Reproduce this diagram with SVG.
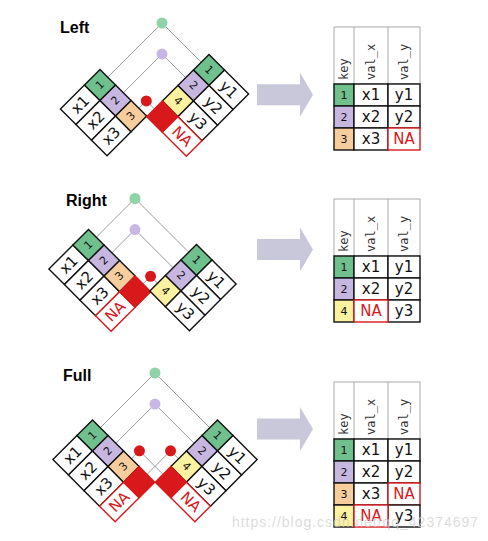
<svg xmlns="http://www.w3.org/2000/svg" width="488" height="541" viewBox="0 0 488 541">
<style>
.ln{stroke:#9c9c9c;stroke-width:1;fill:none}
.c{stroke:#111;stroke-width:1.4}
.v{fill:#fff}
.g{fill:#6fc08d}.p{fill:#c7b6e0}.o{fill:#f7cd9d}.y{fill:#fdf29f}
.r{fill:#d8181b;stroke:#d8181b;stroke-width:1.4}
.na{fill:#fff;stroke:#d8181b;stroke-width:1.4}
.t{font-family:"DejaVu Sans",sans-serif;font-size:15px;text-anchor:middle;dominant-baseline:central;fill:#111}
.tk{font-size:11px}
.tr{fill:#d8181b}
.rv{font-size:15px}
.rk{font-size:11px}
.hd{fill:none;stroke:#aaa;stroke-width:1}
.ht{font-family:"DejaVu Sans Mono",monospace;font-size:12px;fill:#333}
.arrow{fill:#c9c8da}
.title{font-family:"Liberation Sans",Arial,sans-serif;font-weight:bold;font-size:16px;fill:#000}
.dg{fill:#8fd3a6}.dp{fill:#c8b7e4}.dr{fill:#d8181b}
</style>

<!-- titles -->
<text class="title" x="60" y="33">Left</text>
<text class="title" x="66" y="206">Right</text>
<text class="title" x="63" y="381">Full</text>

<!-- connectors -->
<g id="connectors">
  <path class="ln" d="M162,23L100,85M162,23L209,70M162,54.1L115.56,100.56M162,54.1L193.44,85.56M146.3,100.9L131.11,116.11M146.3,100.9L162.33,116.67"/>
  <path class="ln" d="M135,198.5L88.5,245M135,198.5L196.5,260M135,229.6L104.06,260.56M135,229.6L180.94,275.56M150.56,276.28L135.17,291.67M150.56,276.28L165.39,291.11"/>
  <path class="ln" d="M155,373L92.5,435.5M155,373L217.5,435.5M155,404.1L108.06,451.06M155,404.1L201.94,451.06M139.44,450.78L123.61,466.61M139.44,450.78L170.83,482.17M170.56,450.78L186.39,466.61M170.56,450.78L139.17,482.17"/>
</g>

<!-- LEFT panel -->
<g id="left-x" transform="translate(100,85) rotate(-45)">
  <rect class="v c" x="-45" y="-11" width="34" height="22"/><rect class="g c" x="-11" y="-11" width="22" height="22"/>
  <rect class="v c" x="-45" y="11" width="34" height="22"/><rect class="p c" x="-11" y="11" width="22" height="22"/>
  <rect class="v c" x="-45" y="33" width="34" height="22"/><rect class="o c" x="-11" y="33" width="22" height="22"/>
  <text class="t" x="-28" y="0">x1</text><text class="t tk" x="0" y="0">1</text>
  <text class="t" x="-28" y="22">x2</text><text class="t tk" x="0" y="22">2</text>
  <text class="t" x="-28" y="44">x3</text><text class="t tk" x="0" y="44">3</text>
</g>
<g id="left-y" transform="translate(209,70) rotate(45)">
  <rect class="g c" x="-11" y="-11" width="22" height="22"/><rect class="v c" x="11" y="-11" width="34" height="22"/>
  <rect class="p c" x="-11" y="11" width="22" height="22"/><rect class="v c" x="11" y="11" width="34" height="22"/>
  <rect class="y c" x="-11" y="33" width="22" height="22"/><rect class="v c" x="11" y="33" width="34" height="22"/>
  <rect class="r" x="-11" y="55" width="22" height="22"/><rect class="na" x="11" y="55" width="34" height="22"/>
  <text class="t tk" x="0" y="0">1</text><text class="t" x="28" y="0">y1</text>
  <text class="t tk" x="0" y="22">2</text><text class="t" x="28" y="22">y2</text>
  <text class="t tk" x="0" y="44">4</text><text class="t" x="28" y="44">y3</text>
  <text class="t tr" x="28" y="66">NA</text>
</g>
<g id="left-dots">
  <circle class="dg" cx="162" cy="23" r="5.5"/>
  <circle class="dp" cx="162" cy="54.1" r="5.5"/>
  <circle class="dr" cx="146.3" cy="100.9" r="5.5"/>
</g>
<g id="left-arrow"><polygon class="arrow" points="257,84.2 300,84.2 300,72.7 313,94.7 300,116.7 300,105.2 257,105.2"/></g>
<g id="left-result">
  <rect class="hd" x="334" y="27" width="86" height="57"/>
  <path class="hd" d="M354,27V84M388,27V84"/>
  <text class="ht" transform="translate(348,80) rotate(-90)">key</text>
  <text class="ht" transform="translate(375,80) rotate(-90)">val_x</text>
  <text class="ht" transform="translate(408,80) rotate(-90)">val_y</text>
  <rect class="g c" x="334" y="84" width="20" height="22"/><rect class="v c" x="354" y="84" width="34" height="22"/><rect class="v c" x="388" y="84" width="32" height="22"/>
  <rect class="p c" x="334" y="106" width="20" height="22"/><rect class="v c" x="354" y="106" width="34" height="22"/><rect class="v c" x="388" y="106" width="32" height="22"/>
  <rect class="o c" x="334" y="128" width="20" height="22"/><rect class="v c" x="354" y="128" width="34" height="22"/><rect class="na" x="388" y="128" width="32" height="22"/>
  <text class="t rk" x="344" y="95">1</text><text class="t rv" x="371" y="95">x1</text><text class="t rv" x="404" y="95">y1</text>
  <text class="t rk" x="344" y="117">2</text><text class="t rv" x="371" y="117">x2</text><text class="t rv" x="404" y="117">y2</text>
  <text class="t rk" x="344" y="139">3</text><text class="t rv" x="371" y="139">x3</text><text class="t rv tr" x="404" y="139">NA</text>
</g>

<!-- RIGHT panel -->
<g id="right-x" transform="translate(88.5,245) rotate(-45)">
  <rect class="v c" x="-45" y="-11" width="34" height="22"/><rect class="g c" x="-11" y="-11" width="22" height="22"/>
  <rect class="v c" x="-45" y="11" width="34" height="22"/><rect class="p c" x="-11" y="11" width="22" height="22"/>
  <rect class="v c" x="-45" y="33" width="34" height="22"/><rect class="o c" x="-11" y="33" width="22" height="22"/>
  <rect class="na" x="-45" y="55" width="34" height="22"/><rect class="r" x="-11" y="55" width="22" height="22"/>
  <text class="t" x="-28" y="0">x1</text><text class="t tk" x="0" y="0">1</text>
  <text class="t" x="-28" y="22">x2</text><text class="t tk" x="0" y="22">2</text>
  <text class="t" x="-28" y="44">x3</text><text class="t tk" x="0" y="44">3</text>
  <text class="t tr" x="-28" y="66">NA</text>
</g>
<g id="right-y" transform="translate(196.5,260) rotate(45)">
  <rect class="g c" x="-11" y="-11" width="22" height="22"/><rect class="v c" x="11" y="-11" width="34" height="22"/>
  <rect class="p c" x="-11" y="11" width="22" height="22"/><rect class="v c" x="11" y="11" width="34" height="22"/>
  <rect class="y c" x="-11" y="33" width="22" height="22"/><rect class="v c" x="11" y="33" width="34" height="22"/>
  <text class="t tk" x="0" y="0">1</text><text class="t" x="28" y="0">y1</text>
  <text class="t tk" x="0" y="22">2</text><text class="t" x="28" y="22">y2</text>
  <text class="t tk" x="0" y="44">4</text><text class="t" x="28" y="44">y3</text>
</g>
<g id="right-dots">
  <circle class="dg" cx="135" cy="198.5" r="5.5"/>
  <circle class="dp" cx="135" cy="229.6" r="5.5"/>
  <circle class="dr" cx="150.56" cy="276.28" r="5.5"/>
</g>
<g id="right-arrow"><polygon class="arrow" points="257,239 300,239 300,227.5 313,249.5 300,271.5 300,260 257,260"/></g>
<g id="right-result">
  <rect class="hd" x="334" y="199" width="86" height="57"/>
  <path class="hd" d="M354,199V256M388,199V256"/>
  <text class="ht" transform="translate(348,252) rotate(-90)">key</text>
  <text class="ht" transform="translate(375,252) rotate(-90)">val_x</text>
  <text class="ht" transform="translate(408,252) rotate(-90)">val_y</text>
  <rect class="g c" x="334" y="256" width="20" height="22"/><rect class="v c" x="354" y="256" width="34" height="22"/><rect class="v c" x="388" y="256" width="32" height="22"/>
  <rect class="p c" x="334" y="278" width="20" height="22"/><rect class="v c" x="354" y="278" width="34" height="22"/><rect class="v c" x="388" y="278" width="32" height="22"/>
  <rect class="y c" x="334" y="300" width="20" height="22"/><rect class="v c" x="388" y="300" width="32" height="22"/><rect class="na" x="354" y="300" width="34" height="22"/>
  <text class="t rk" x="344" y="267">1</text><text class="t rv" x="371" y="267">x1</text><text class="t rv" x="404" y="267">y1</text>
  <text class="t rk" x="344" y="289">2</text><text class="t rv" x="371" y="289">x2</text><text class="t rv" x="404" y="289">y2</text>
  <text class="t rk" x="344" y="311">4</text><text class="t rv tr" x="371" y="311">NA</text><text class="t rv" x="404" y="311">y3</text>
</g>

<!-- FULL panel -->
<g id="full-x" transform="translate(92.5,435.5) rotate(-45)">
  <rect class="v c" x="-45" y="-11" width="34" height="22"/><rect class="g c" x="-11" y="-11" width="22" height="22"/>
  <rect class="v c" x="-45" y="11" width="34" height="22"/><rect class="p c" x="-11" y="11" width="22" height="22"/>
  <rect class="v c" x="-45" y="33" width="34" height="22"/><rect class="o c" x="-11" y="33" width="22" height="22"/>
  <rect class="na" x="-45" y="55" width="34" height="22"/><rect class="r" x="-11" y="55" width="22" height="22"/>
  <text class="t" x="-28" y="0">x1</text><text class="t tk" x="0" y="0">1</text>
  <text class="t" x="-28" y="22">x2</text><text class="t tk" x="0" y="22">2</text>
  <text class="t" x="-28" y="44">x3</text><text class="t tk" x="0" y="44">3</text>
  <text class="t tr" x="-28" y="66">NA</text>
</g>
<g id="full-y" transform="translate(217.5,435.5) rotate(45)">
  <rect class="g c" x="-11" y="-11" width="22" height="22"/><rect class="v c" x="11" y="-11" width="34" height="22"/>
  <rect class="p c" x="-11" y="11" width="22" height="22"/><rect class="v c" x="11" y="11" width="34" height="22"/>
  <rect class="y c" x="-11" y="33" width="22" height="22"/><rect class="v c" x="11" y="33" width="34" height="22"/>
  <rect class="r" x="-11" y="55" width="22" height="22"/><rect class="na" x="11" y="55" width="34" height="22"/>
  <text class="t tk" x="0" y="0">1</text><text class="t" x="28" y="0">y1</text>
  <text class="t tk" x="0" y="22">2</text><text class="t" x="28" y="22">y2</text>
  <text class="t tk" x="0" y="44">4</text><text class="t" x="28" y="44">y3</text>
  <text class="t tr" x="28" y="66">NA</text>
</g>
<g id="full-dots">
  <circle class="dg" cx="155" cy="373" r="5.5"/>
  <circle class="dp" cx="155" cy="404.1" r="5.5"/>
  <circle class="dr" cx="139.44" cy="450.78" r="5.5"/>
  <circle class="dr" cx="170.56" cy="450.78" r="5.5"/>
</g>
<g id="full-arrow"><polygon class="arrow" points="257,418.5 300,418.5 300,407 313,429 300,451 300,439.5 257,439.5"/></g>
<g id="full-result">
  <rect class="hd" x="334" y="382" width="86" height="57"/>
  <path class="hd" d="M354,382V439M388,382V439"/>
  <text class="ht" transform="translate(348,435) rotate(-90)">key</text>
  <text class="ht" transform="translate(375,435) rotate(-90)">val_x</text>
  <text class="ht" transform="translate(408,435) rotate(-90)">val_y</text>
  <rect class="g c" x="334" y="439" width="20" height="22"/><rect class="v c" x="354" y="439" width="34" height="22"/><rect class="v c" x="388" y="439" width="32" height="22"/>
  <rect class="p c" x="334" y="461" width="20" height="22"/><rect class="v c" x="354" y="461" width="34" height="22"/><rect class="v c" x="388" y="461" width="32" height="22"/>
  <rect class="o c" x="334" y="483" width="20" height="22"/><rect class="v c" x="354" y="483" width="34" height="22"/><rect class="na" x="388" y="483" width="32" height="22"/>
  <rect class="y c" x="334" y="505" width="20" height="22"/><rect class="v c" x="388" y="505" width="32" height="22"/><rect class="na" x="354" y="505" width="34" height="22"/>
  <text class="t rk" x="344" y="450">1</text><text class="t rv" x="371" y="450">x1</text><text class="t rv" x="404" y="450">y1</text>
  <text class="t rk" x="344" y="472">2</text><text class="t rv" x="371" y="472">x2</text><text class="t rv" x="404" y="472">y2</text>
  <text class="t rk" x="344" y="494">3</text><text class="t rv" x="371" y="494">x3</text><text class="t rv tr" x="404" y="494">NA</text>
  <text class="t rk" x="344" y="516">4</text><text class="t rv tr" x="371" y="516">NA</text><text class="t rv" x="404" y="516">y3</text>
</g>

<text x="232" y="527" font-family="Liberation Sans, Arial, sans-serif" font-size="14" fill="#d0d0d0" fill-opacity="0.75" textLength="246" lengthAdjust="spacing">https://blog.csdn.net/qq_42374697</text>
</svg>
